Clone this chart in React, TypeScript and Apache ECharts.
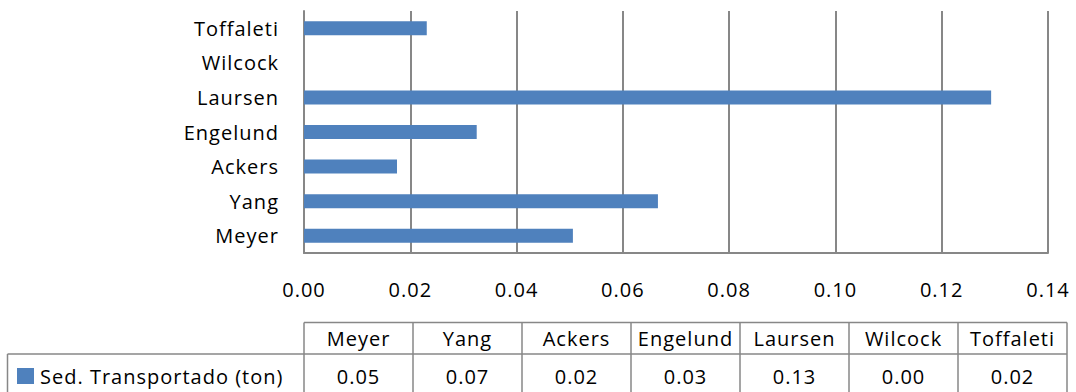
import React, { useEffect, useRef } from "react";
import * as echarts from "echarts";

const categories = ["Meyer", "Yang", "Ackers", "Engelund", "Laursen", "Wilcock", "Toffaleti"];
const values = [0.0506, 0.0666, 0.0175, 0.0325, 0.1293, 0.0, 0.0231];
const seriesName = "Sed. Transportado (ton)";
const xMin = 0;
const xMax = 0.14;
const xInterval = 0.02;

const FONT = "'Open Sans'";
const FS = 20;
const GRAY = "#878787";
const BLUE = "#4F81BD";

export default function App() {
  const ref = useRef<HTMLDivElement>(null);
  useEffect(() => {
    document.body.style.margin = "0";
    const chart = echarts.init(ref.current!, null, { renderer: "svg" });

    const tableLeft = 304;
    const tableRight = 1067;
    const colW = (tableRight - tableLeft) / categories.length;
    const headTop = 322.5;
    const rowSep = 354;
    const bottom = 400;
    const legendLeft = 7.5;
    const lineStyle = { stroke: GRAY, lineWidth: 1.5 };
    const graphics: any[] = [];
    graphics.push({ type: "line", shape: { x1: tableLeft, y1: headTop, x2: tableRight, y2: headTop }, style: lineStyle });
    graphics.push({ type: "line", shape: { x1: legendLeft, y1: rowSep, x2: tableRight, y2: rowSep }, style: lineStyle });
    graphics.push({ type: "line", shape: { x1: legendLeft, y1: rowSep, x2: legendLeft, y2: bottom }, style: lineStyle });
    for (let i = 0; i <= categories.length; i++) {
      const x = tableLeft + i * colW;
      graphics.push({ type: "line", shape: { x1: x, y1: headTop, x2: x, y2: bottom }, style: lineStyle });
    }
    categories.forEach((c, i) => {
      const cx = tableLeft + (i + 0.5) * colW;
      graphics.push({
        type: "text",
        x: cx,
        y: 338,
        style: { text: c, fill: "#000", font: `${FS}px ${FONT}`, align: "center", verticalAlign: "middle" },
      });
      graphics.push({
        type: "text",
        x: cx,
        y: 376,
        style: { text: values[i].toFixed(2), fill: "#000", font: `${FS}px ${FONT}`, align: "center", verticalAlign: "middle" },
      });
    });
    graphics.push({ type: "rect", shape: { x: 17, y: 368, width: 17, height: 16 }, style: { fill: BLUE } });
    graphics.push({
      type: "text",
      x: 40,
      y: 376,
      style: { text: seriesName, fill: "#000", font: `${FS}px ${FONT}`, align: "left", verticalAlign: "middle" },
    });

    chart.setOption({
      animation: false,
      grid: { left: 304, right: 28, top: 11, height: 242, containLabel: false },
      xAxis: {
        type: "value",
        min: xMin,
        max: xMax,
        interval: xInterval,
        axisLine: { show: true, lineStyle: { color: GRAY, width: 2 } },
        axisTick: { show: false },
        splitLine: { show: true, lineStyle: { color: GRAY, width: 2 } },
        axisLabel: {
          color: "#000",
          fontFamily: FONT,
          fontSize: FS,
          margin: 26,
          formatter: (v: number) => v.toFixed(2),
        },
      },
      yAxis: {
        type: "category",
        data: categories,
        axisLine: { show: true, lineStyle: { color: GRAY, width: 2 } },
        axisTick: { show: false },
        axisLabel: { color: "#000", fontFamily: FONT, fontSize: FS, margin: 25 },
      },
      series: [
        {
          name: seriesName,
          type: "bar",
          data: values,
          barWidth: 14,
          itemStyle: { color: BLUE },
        },
      ],
      graphic: graphics,
    });
    return () => chart.dispose();
  }, []);
  return <div ref={ref} style={{ width: 1076, height: 392, letterSpacing: "1px" }} />;
}
